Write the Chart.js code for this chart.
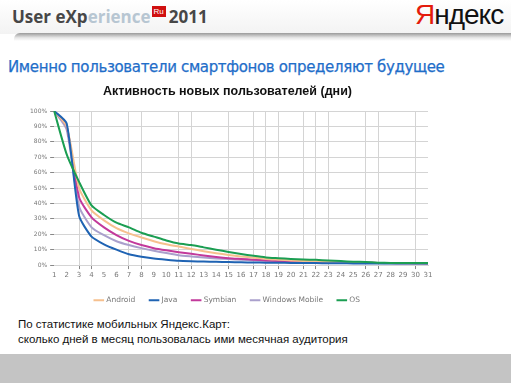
<!DOCTYPE html>
<html>
<head>
<meta charset="utf-8">
<script src="https://cdn.jsdelivr.net/npm/chart.js@4"></script>
<style>
  html, body { margin: 0; padding: 0; }
  body { width: 511px; height: 383px; position: relative; overflow: hidden; background: #fff; font-family: "Liberation Sans", Arial, sans-serif; }
  #header { position: absolute; left: 0; top: 0; width: 511px; height: 34px; background: linear-gradient(#ffffff, #f3f3f3); }
  #shadow { position: absolute; left: 14px; top: 33px; width: 497px; height: 8px; background: linear-gradient(#9a9a9a, #e8e8e8 60%, #ffffff); border-radius: 6px 0 0 0; }
  #brand { position: absolute; left: 12px; top: 5px; font: bold 17px "Open Sans", sans-serif; color: #474747; white-space: nowrap; }
  #brand .light { color: #b7c6d2; }
  #ru { display: inline-block; background: #d01010; color: #fff; font: 8px "Liberation Sans", sans-serif; padding: 1px 2px; vertical-align: 9px; margin: 0 3px 0 1px; }
  #logo { position: absolute; left: 415px; top: -1px; font: 28px "Liberation Sans Narrow", "Liberation Sans", sans-serif; color: #111; letter-spacing: -1px; }
  #logo span { color: #e41b0c; }
  #title { position: absolute; left: 8px; top: 58px; font: 15px "DejaVu Sans", sans-serif; color: #1f6ec9; white-space: nowrap; letter-spacing: -0.35px; -webkit-text-stroke: 0.25px #1f6ec9; }
  #chartBox { position: absolute; left: 15px; top: 80px; width: 440px; height: 234px; }
  #note { position: absolute; left: 18px; top: 317px; font: 11.5px "Liberation Sans", sans-serif; color: #111; line-height: 15px; }
  #footer { position: absolute; left: 0; top: 354px; width: 511px; height: 29px; background: #c4c4c4; }
</style>
</head>
<body>
<div id="header"></div>
<div id="shadow"></div>
<div id="brand">User eXp<span class="light">erience</span><span id="ru">Ru</span>2011</div>
<div id="logo"><span>Я</span>ндекс</div>
<div id="title">Именно пользователи смартфонов определяют будущее</div>
<div id="chartBox"><canvas id="activityChart"></canvas></div>
<div id="note">По статистике мобильных Яндекс.Карт:<br>сколько дней в месяц пользовалась ими месячная аудитория</div>
<div id="footer"></div>
<script>
const days = ['1','2','3','4','5','6','7','8','9','10','11','12','13','14','15','16','17','18','19','20','21','22','23','24','25','26','27','28','29','30','31'];

const android = [100, 90, 50, 35.5, 29, 24, 20.6, 18, 15.5, 13.5, 12, 10.5, 9, 7.7, 6.6, 5.6, 4.8, 4, 3.5, 3, 2.6, 2.3, 2, 1.8, 1.7, 1.5, 1.4, 1.3, 1.3, 1.2, 1.2];
const java = [100, 92, 32, 18.5, 13.5, 10, 7, 5.4, 4.3, 3.5, 2.8, 2.5, 2.3, 2.1, 2, 1.8, 1.7, 1.6, 1.5, 1.4, 1.3, 1.3, 1.2, 1.2, 1.1, 1.1, 1, 1, 1, 1, 1];
const symbian = [100, 90, 44, 31, 24.5, 19.5, 15.7, 13, 11, 9.6, 8.4, 7.3, 6.3, 5.3, 4.5, 4, 3.5, 3, 2.7, 2.4, 2.2, 2, 1.8, 1.7, 1.6, 1.5, 1.4, 1.3, 1.2, 1.2, 1.1];
const windowsMobile = [100, 88, 38, 24.5, 19.4, 15.5, 13, 11, 9.3, 7.8, 6.4, 5.6, 4.9, 4.3, 3.9, 3.5, 3.1, 2.8, 2.5, 2.3, 2.1, 1.9, 1.7, 1.6, 1.5, 1.4, 1.3, 1.2, 1.2, 1.1, 1.1];
const os = [100, 72, 54, 38.7, 32.5, 27.5, 24.5, 21, 18.5, 16, 14, 13, 11.5, 10, 8.5, 7.2, 6, 5, 4.5, 4, 3.6, 3.4, 3, 2.6, 2.2, 2, 1.6, 1.4, 1.3, 1.3, 1.3];

// vertical grid lines that are visible in the original picture
const gridDays = ['3','4','7','8','11','12','15','17','18','19','21','22','23','26','27','30'];

function line(label, data, color, order) {
    return {
        label: label,
        data: data,
        borderColor: color,
        backgroundColor: color,
        borderWidth: 2,
        pointRadius: 0,
        fill: false,
        tension: 0.2,
        order: order
    };
}

const ctx = document.getElementById('activityChart').getContext('2d');
new Chart(ctx, {
    type: 'line',
    data: {
        labels: days,
        datasets: [
            line('Android', android, '#f6c08e', 3),
            line('Java', java, '#1f63b3', 2),
            line('Symbian', symbian, '#c2399b', 4),
            line('Windows Mobile', windowsMobile, '#aaa0cc', 5),
            line('OS', os, '#1b9e52', 1)
        ]
    },
    options: {
        responsive: true,
        maintainAspectRatio: false,
        animation: false,
        layout: { padding: { left: 12, right: 27, top: 0, bottom: 0 } },
        scales: {
            x: {
                grid: {
                    color: (c) => gridDays.includes(days[c.index]) ? '#d4d4d4' : 'rgba(0,0,0,0)',
                    tickColor: (c) => gridDays.includes(days[c.index]) ? '#888' : 'rgba(0,0,0,0)',
                    tickLength: 4
                },
                border: { color: '#d4d4d4' },
                ticks: { color: '#777', font: { size: 7, family: 'DejaVu Sans' }, maxRotation: 0, autoSkip: false, padding: 2 }
            },
            y: {
                min: 0,
                max: 100,
                grid: { color: '#d4d4d4', tickColor: '#888', tickLength: 4 },
                border: { display: false },
                ticks: { stepSize: 10, color: '#777', font: { size: 6, family: 'DejaVu Sans' }, padding: 3, callback: (v) => v + '%' }
            }
        },
        plugins: {
            title: {
                display: true,
                text: 'Активность новых пользователей (дни)',
                color: '#111',
                font: { size: 12.5, weight: 'bold', family: 'Liberation Sans' },
                padding: { top: 4, bottom: 12 }
            },
            legend: {
                position: 'bottom',
                labels: {
                    usePointStyle: true,
                    pointStyle: 'line',
                    boxWidth: 22,
                    color: '#777',
                    font: { size: 7.5, family: 'DejaVu Sans' },
                    padding: 15,
                    sort: (a, b) => a.datasetIndex - b.datasetIndex
                }
            },
            tooltip: { enabled: false }
        }
    }
});
</script>
</body>
</html>
